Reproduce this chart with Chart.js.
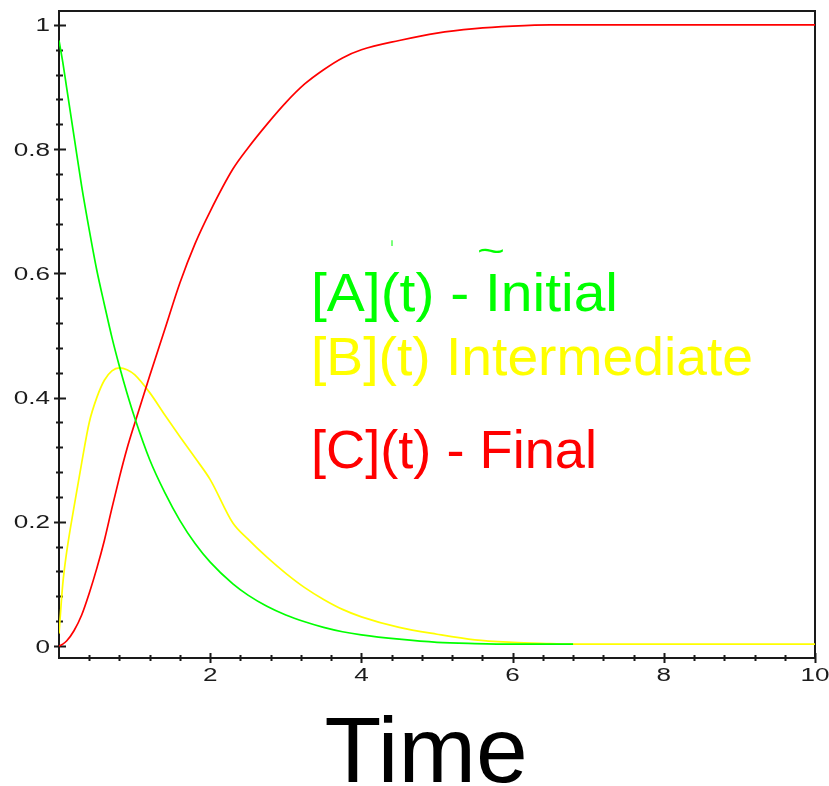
<!DOCTYPE html>
<html>
<head>
<meta charset="utf-8">
<title>A → B → C kinetics</title>
<script src="https://cdn.jsdelivr.net/npm/chart.js@4.4.1/dist/chart.umd.min.js"></script>
<style>
    html, body { margin: 0; padding: 0; background: #fff; }
    #wrap { width: 829px; height: 786px; position: relative; }
</style>
</head>
<body>
<div id="wrap"><canvas id="kineticsChart"></canvas></div>
<script>
// Concentration vs time

const times = [0, 0.05, 0.1, 0.2, 0.3, 0.4, 0.5, 0.6, 0.7, 0.8, 0.9, 1.0,
    1.2, 1.4, 1.6, 1.8, 2.0, 2.3, 2.5, 2.75, 3.0, 3.25, 3.5, 3.75, 4.0,
    4.5, 5.0, 5.5, 6.0, 6.5, 6.8, 7, 8, 9, 10];

// [A] stops being drawn after t = 6.8
const concA = [0.975, 0.94, 0.90, 0.82, 0.74, 0.67, 0.605, 0.55, 0.497, 0.45, 0.407, 0.368,
    0.30, 0.247, 0.202, 0.165, 0.135, 0.10, 0.082, 0.064, 0.05, 0.039, 0.03, 0.023, 0.018,
    0.011, 0.006, 0.004, 0.003, 0.003, 0.003, null, null, null, null];

const concB = [0.02, 0.10, 0.15, 0.225, 0.295, 0.36, 0.40, 0.428, 0.443, 0.448, 0.445, 0.437,
    0.408, 0.372, 0.337, 0.303, 0.268, 0.198, 0.172, 0.143, 0.117, 0.094, 0.075, 0.059, 0.047,
    0.03, 0.019, 0.01, 0.006, 0.004, 0.003, 0.003, 0.003, 0.003, 0.003];

const concC = [0, 0.003, 0.008, 0.025, 0.05, 0.085, 0.125, 0.17, 0.222, 0.272, 0.318, 0.358,
    0.435, 0.51, 0.585, 0.648, 0.70, 0.768, 0.802, 0.84, 0.875, 0.905, 0.928, 0.947, 0.96,
    0.975, 0.987, 0.994, 0.998, 1.0, 1.0, 1.0, 1.0, 1.0, 1.0];

const xTickValues = [2, 4, 6, 8, 10];
const xTickLabels = ['2', '4', '6', '8', '10'];
const yTickValues = [0, 0.2, 0.4, 0.6, 0.8, 1];
const yTickLabels = ['0', '0.2', '0.4', '0.6', '0.8', '1'];

const seriesLabels = ['[A](t) - Initial', '[B](t) Intermediate', '[C](t) - Final'];
const axisTitle = 'Time';

const X_MINOR = 0.4;
const Y_MINOR = 0.04;

function toPoints(values) {
    return times
        .map((t, i) => ({ x: t, y: values[i] }))
        .filter(p => p.y !== null);
}

// axis box plus the little cross ticks
const frameAndTicks = {
    id: 'frameAndTicks',
    beforeDatasetsDraw(chart) {
        const { ctx, chartArea: a, scales: { x, y } } = chart;
        ctx.save();
        ctx.strokeStyle = '#1a1a1a';
        ctx.lineWidth = 2;
        ctx.strokeRect(a.left, a.top, a.right - a.left, a.bottom - a.top);

        ctx.beginPath();
        for (let i = 1; i * Y_MINOR < 1.0001; i++) {
            const py = Math.round(y.getPixelForValue(i * Y_MINOR)) + 0.5;
            ctx.moveTo(a.left - 3, py);
            ctx.lineTo(a.left + 4, py);
        }
        for (let i = 1; i * X_MINOR < 10; i++) {
            const px = Math.round(x.getPixelForValue(i * X_MINOR)) + 0.5;
            ctx.moveTo(px, a.bottom - 3);
            ctx.lineTo(px, a.bottom + 3);
        }
        yTickValues.forEach(v => {
            const py = Math.round(y.getPixelForValue(v)) + 0.5;
            ctx.moveTo(a.left - 5, py);
            ctx.lineTo(a.left + 7, py);
        });
        xTickValues.forEach(v => {
            const px = Math.round(x.getPixelForValue(v)) + 0.5;
            ctx.moveTo(px, a.bottom - 5);
            ctx.lineTo(px, a.bottom + 5);
        });
        ctx.stroke();
        ctx.restore();
    }
};

function stretchedText(ctx, text, left, baseline, font, color, targetWidth) {
    ctx.save();
    ctx.font = font;
    ctx.fillStyle = color;
    ctx.textAlign = 'left';
    ctx.textBaseline = 'alphabetic';
    const w = ctx.measureText(text).width;
    ctx.translate(left, baseline);
    ctx.scale(targetWidth / w, 1);
    ctx.fillText(text, 0, 0);
    ctx.restore();
}

// tick labels, curve labels and the axis title
const textLayer = {
    id: 'textLayer',
    afterDraw(chart) {
        const { ctx, chartArea: a, scales: { x, y } } = chart;
        const tickFont = '18px "Liberation Sans", Arial, sans-serif';
        const sx = 1.45;

        ctx.save();
        ctx.font = tickFont;
        ctx.fillStyle = '#1c1c1c';
        ctx.textBaseline = 'alphabetic';
        y.ticks.forEach((t, i) => {
            const py = y.getPixelForValue(t.value);
            ctx.save();
            ctx.translate(a.left - 9, py + 6.5);
            ctx.scale(sx, 1);
            ctx.textAlign = 'right';
            ctx.fillText(yTickLabels[i], 0, 0);
            ctx.restore();
        });
        // the bottom of the x labels is cut off in the original
        ctx.beginPath();
        ctx.rect(0, a.bottom + 6, chart.width, 21);
        ctx.clip();
        x.ticks.forEach((t, i) => {
            const px = x.getPixelForValue(t.value);
            ctx.save();
            ctx.translate(px, a.bottom + 23);
            ctx.scale(sx, 1);
            ctx.textAlign = 'center';
            ctx.fillText(xTickLabels[i], 0, 0);
            ctx.restore();
        });
        ctx.restore();

        const big = '53px "Liberation Sans", Arial, sans-serif';
        stretchedText(ctx, seriesLabels[0], 311, 311, big, '#00ff00', 307);
        stretchedText(ctx, seriesLabels[1], 311, 375, big, '#ffff00', 442);
        stretchedText(ctx, seriesLabels[2], 311, 468, big, '#ff0000', 286);

        // stray bits of glyphs above the first label
        stretchedText(ctx, '~', 477, 262, '34px "Liberation Sans", Arial, sans-serif', '#00ff00', 28);
        stretchedText(ctx, '\u02C8', 390, 256, '22px "DejaVu Sans", sans-serif', '#00ff00', 4);

        ctx.save();
        ctx.font = '93px "Liberation Sans", Arial, sans-serif';
        ctx.fillStyle = '#000';
        ctx.textAlign = 'center';
        ctx.textBaseline = 'alphabetic';
        ctx.fillText(axisTitle, 426, 782);
        ctx.restore();
    }
};

const ctx = document.getElementById('kineticsChart');

new Chart(ctx, {
    type: 'line',
    data: {
        datasets: [{
            label: seriesLabels[0],
            data: toPoints(concA),
            borderColor: '#00ff00'
        }, {
            label: seriesLabels[2],
            data: toPoints(concC),
            borderColor: '#ff0000'
        }, {
            label: seriesLabels[1],
            data: toPoints(concB),
            borderColor: '#ffff00'
        }]
    },
    options: {
        responsive: true,
        maintainAspectRatio: false,
        animation: false,
        layout: { padding: { top: 11, right: 14, left: 0, bottom: 0 } },
        plugins: {
            legend: { display: false },
            tooltip: { enabled: false }
        },
        elements: {
            point: { radius: 0 },
            line: { borderWidth: 1.7, cubicInterpolationMode: 'monotone', fill: false }
        },
        scales: {
            x: {
                type: 'linear',
                min: 0,
                max: 10,
                grid: { display: false, drawTicks: false },
                border: { display: false },
                ticks: { display: false },
                afterBuildTicks: s => { s.ticks = xTickValues.map(v => ({ value: v })); },
                afterFit: s => { s.height = 128; }
            },
            y: {
                type: 'linear',
                min: -0.0193,
                max: 1.0225,
                grid: { display: false, drawTicks: false },
                border: { display: false },
                ticks: { display: false },
                afterBuildTicks: s => { s.ticks = yTickValues.map(v => ({ value: v })); },
                afterFit: s => { s.width = 59; }
            }
        }
    },
    plugins: [frameAndTicks, textLayer]
});
</script>
</body>
</html>
